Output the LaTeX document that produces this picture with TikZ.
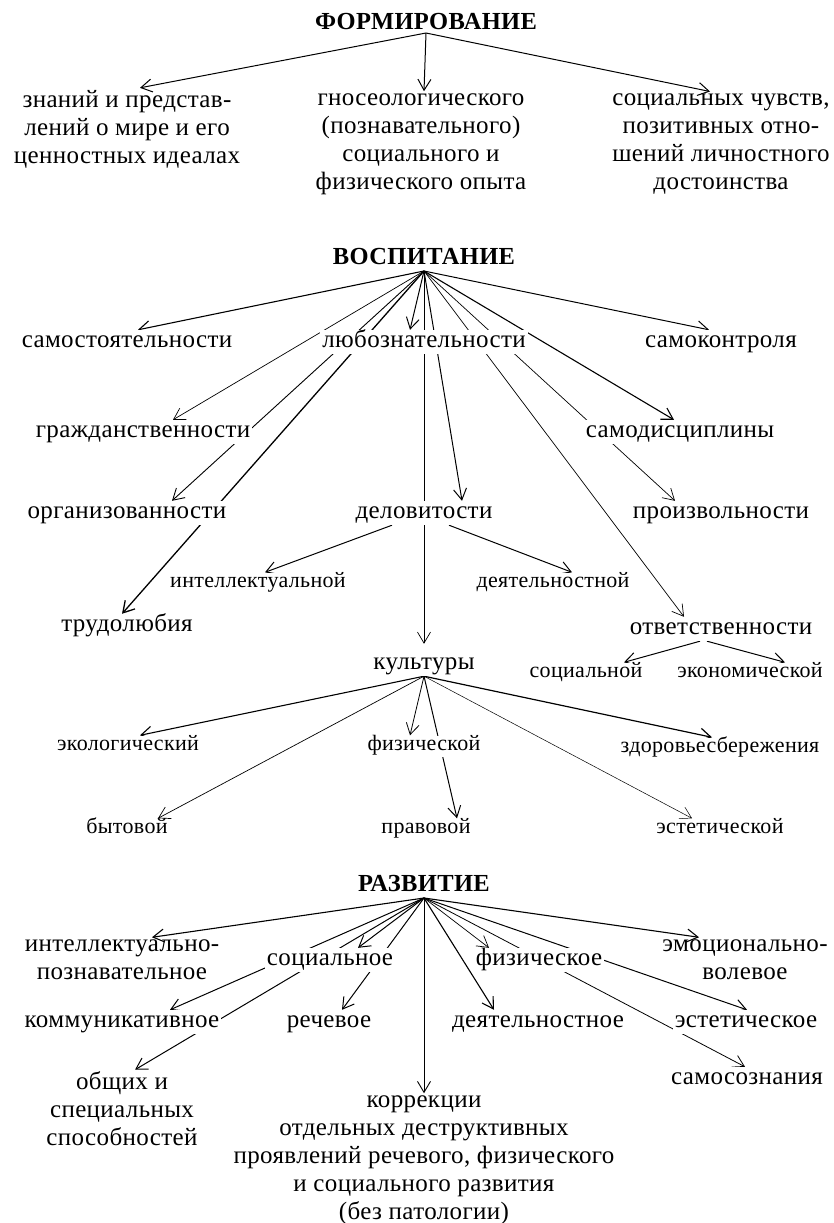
\documentclass[tikz,border=0pt]{standalone}
\usepackage{fontspec}
\setmainfont{Liberation Serif}[LetterSpace=1.5]
\usetikzlibrary{arrows.meta}
\pgfdeclarelayer{background}
\pgfsetlayers{background,main}

\tikzset{
  lbl/.style={fill=white, inner sep=2pt, text height=15pt, text depth=5pt,
    font=\fontsize{25}{28}\selectfont},
  lblsm/.style={lbl, text height=13pt, text depth=4pt,
    font=\fontsize{22}{25}\selectfont},
  lblblock/.style={inner sep=2pt, align=center,
    font=\fontsize{25}{28}\selectfont},
  ttl/.style={inner sep=1pt, outer sep=6pt, text height=16pt, text depth=0pt,
    font=\bfseries\fontsize{24.5}{28}\selectfont},
  lnk/.style={-{Straight Barb[length=11pt,width=13pt]}, line width=1pt},
}

\begin{document}
\begin{tikzpicture}[x=1pt,y=-1pt]
      \useasboundingbox (0,0) rectangle (834,1223);
      % ФОРМИРОВАНИЕ
      \node[ttl, outer sep=2pt] (form) at (426,22) {ФОРМИРОВАНИЕ};
      \node[lblblock] (know) at (127,129) {знаний и представ-\\лений о мире и его\\ценностных идеалах};
      \node[lblblock] (gnos) at (421,144) {гносеологического\\(познавательного)\\социального и\\физического опыта};
      \node[lblblock] (feel) at (721,144) {социальных чувств,\\позитивных отно-\\шений личностного\\достоинства};
      % ВОСПИТАНИЕ
      \node[ttl] (vosp) at (424,256) {ВОСПИТАНИЕ};
      \node[lbl] (samost) at (127,342) {самостоятельности};
      \node[lbl] (lyub) at (424,342) {любознательности};
      \node[lbl] (samok) at (721,342) {самоконтроля};
      \node[lbl] (grazh) at (143,432) {гражданственности};
      \node[lbl] (samod) at (680,432) {самодисциплины};
      \node[lbl] (organ) at (127,513) {организованности};
      \node[lbl] (delov) at (424,513) {деловитости};
      \node[lbl] (proizv) at (721,513) {произвольности};
      \node[lblsm] (intel) at (258,583) {интеллектуальной};
      \node[lblsm] (deyat) at (553,583) {деятельностной};
      \node[lbl] (trud) at (127,626) {трудолюбия};
      \node[lbl] (otv) at (721,629) {ответственности};
      \node[lbl] (kult) at (424,664) {культуры};
      \node[lblsm] (socl) at (586,673) {социальной};
      \node[lblsm] (econ) at (750,673) {экономической};
      \node[lblsm] (ekol) at (128,746) {экологический};
      \node[lblsm] (fiz) at (424,746) {физической};
      \node[lblsm] (zdor) at (720,748) {здоровьесбережения};
      \node[lblsm] (bytov) at (127,829) {бытовой};
      \node[lblsm] (pravo) at (426,829) {правовой};
      \node[lblsm] (estet) at (720,829) {эстетической};
      % РАЗВИТИЕ
      \node[ttl] (razv) at (424,883) {РАЗВИТИЕ};
      \node[lblblock] (intp) at (122,959.5) {интеллектуально-\\познавательное};
      \node[lbl] (soc) at (330,960) {социальное};
      \node[lbl] (fizr) at (539,960) {физическое};
      \node[lblblock] (emo) at (745,959.5) {эмоционально-\\волевое};
      \node[lbl] (komm) at (122,1022) {коммуникативное};
      \node[lbl] (rech) at (329,1022) {речевое};
      \node[lbl] (deyr) at (538,1022) {деятельностное};
      \node[lbl] (estr) at (746,1022) {эстетическое};
      \node[lbl] (samos) at (747,1079) {самосознания};
      \node[lblblock] (obsh) at (122,1109) {общих и\\специальных\\способностей};
      \node[lblblock] (korr) at (424,1160) {коррекции\\отдельных деструктивных\\проявлений речевого, физического\\и социального развития\\(без патологии)};

      \begin{pgfonlayer}{background}
        \fill[white] (0,0) rectangle (834,1223);
        \foreach \n/\dx in {know/13, gnos/3, feel/-11}
          \draw[lnk] (form.south) -- ([xshift=\dx pt]\n.north);
        \foreach \n/\dx/\w in {samost/11/1.1, lyub/-14/1, samok/-12/1, grazh/30/0.7,
            samod/-6/1.1, organ/45/0.9, delov/38/1, proizv/-46/0.7, trud/-5/1.3, otv/-37/0.7}
          \draw[lnk, line width=\w pt] (vosp.south) -- ([xshift=\dx pt]\n.north);
        \draw[lnk, line width=0.7pt] (vosp.south) -- ([yshift=8pt]kult.north);
        \draw[lnk] ([xshift=-32pt]delov.south) -- ([xshift=7pt]intel.north);
        \draw[lnk] ([xshift=25pt]delov.south) -- ([xshift=19pt]deyat.north);
        \draw[lnk] ([xshift=-21pt]otv.south) -- ([xshift=38pt]socl.north);
        \draw[lnk] ([xshift=-14pt]otv.south) -- ([xshift=35pt]econ.north);
        \foreach \n/\dx/\w in {ekol/12/1.1, bytov/31/0.7, fiz/-14/0.8, pravo/31/1,
            zdor/-8/1.2, estet/-28/0.5}
          \draw[lnk, line width=\w pt] (kult.south) -- ([xshift=\dx pt]\n.north);
        \foreach \n/\dx/\w in {intp/30/1.1, soc/28/1, fizr/-50/0.7, emo/-46/1.1, komm/48/1,
            rech/13/1, deyr/-44/1.1, estr/1/1, obsh/13/1, samos/-2/0.8, korr/0/0.9}
          \draw[lnk, line width=\w pt] (razv.south) -- ([xshift=\dx pt]\n.north);
      \end{pgfonlayer}
    \end{tikzpicture}
\end{document}
